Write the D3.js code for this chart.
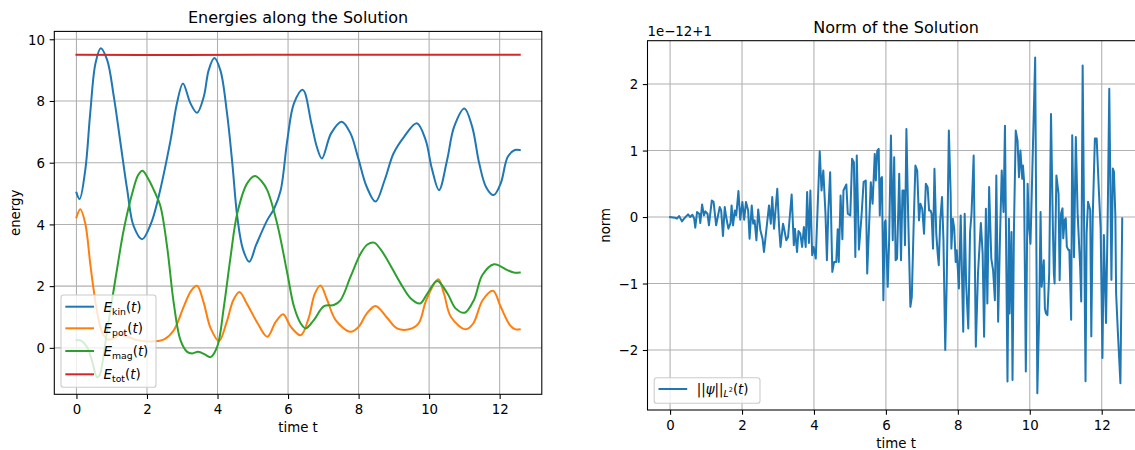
<!DOCTYPE html>
<html><head><meta charset="utf-8">
<script src="https://cdn.jsdelivr.net/npm/d3@7"></script>
<style>
body{margin:0;background:#fff}
svg{display:block}
text{font-family:"DejaVu Sans",sans-serif;fill:#000}
</style>
</head><body>
<svg id="c" width="1135" height="450"></svg>
<script>
// ---------- data ----------
const kinT=[0,0.09,0.25,0.39,0.54,0.69,0.87,1.06,1.25,1.44,1.62,1.86,2.12,2.33,2.67,2.85,3.02,3.23,3.42,3.61,3.75,3.91,4.08,4.27,4.42,4.56,4.72,4.9,5.1,5.41,5.6,5.79,5.98,6.17,6.42,6.66,6.82,6.96,7.22,7.52,7.77,7.98,8.23,8.48,8.74,8.99,9.29,9.65,9.9,10.08,10.28,10.51,10.71,11.0,11.22,11.42,11.62,11.83,12.03,12.23,12.43,12.57];
const kinV=[5.03,4.82,5.76,7.6,9.22,9.71,9.33,8.14,6.63,5.12,3.95,3.52,4.05,4.9,6.74,7.93,8.57,7.93,7.62,8.14,9.0,9.39,9.0,7.6,5.98,4.25,3.2,2.79,3.35,4.14,4.5,5.1,6.74,7.93,8.36,7.28,6.5,6.14,6.95,7.33,6.95,6.19,5.22,4.74,5.44,6.3,6.84,7.28,6.74,5.8,5.11,6.09,7.17,7.76,7.17,5.98,5.2,4.95,5.33,6.19,6.41,6.41];
const potT=[0,0.11,0.25,0.39,0.49,0.63,0.75,0.9,1.05,1.2,1.44,1.72,2.0,2.3,2.5,2.76,3.04,3.25,3.42,3.6,3.8,4.04,4.25,4.45,4.62,4.83,5.14,5.41,5.65,5.86,6.08,6.36,6.58,6.76,6.92,7.11,7.35,7.77,8.0,8.23,8.48,8.79,9.09,9.43,9.7,9.92,10.26,10.42,10.62,11.04,11.25,11.52,11.81,12.03,12.29,12.45,12.57];
const potV=[4.23,4.49,4.03,2.74,1.87,0.9,0.45,0.27,0.3,0.42,0.36,0.25,0.21,0.22,0.28,0.57,1.33,1.85,2.01,1.5,0.65,0.22,0.8,1.55,1.81,1.44,0.79,0.36,0.84,1.09,0.68,0.41,0.95,1.76,2.02,1.55,0.9,0.52,0.68,1.11,1.36,1.0,0.63,0.6,0.79,1.55,2.22,1.76,1.0,0.6,0.79,1.55,1.85,1.33,0.74,0.6,0.6];
const magT=[0,0.12,0.3,0.45,0.58,0.65,0.75,0.87,1.01,1.2,1.34,1.58,1.75,1.87,2.05,2.2,2.38,2.57,2.76,2.95,3.14,3.28,3.45,3.65,3.8,3.99,4.18,4.37,4.56,4.84,5.06,5.25,5.41,5.69,5.98,6.17,6.36,6.5,6.73,7.02,7.3,7.49,7.77,8.06,8.25,8.44,8.62,8.82,9.19,9.48,9.74,9.95,10.23,10.52,10.75,11.01,11.27,11.51,11.84,12.22,12.4,12.57];
const magV=[0.25,0.24,0.03,-0.45,-0.95,-0.9,-0.4,0.57,1.55,2.9,3.82,5.0,5.6,5.74,5.45,5.1,4.6,3.28,1.44,0.25,-0.13,-0.18,-0.13,-0.22,-0.3,0.03,1.33,2.95,4.36,5.33,5.57,5.4,5.11,4.03,2.41,1.33,0.79,0.63,0.9,1.35,1.39,1.55,2.3,3.06,3.35,3.41,3.2,2.84,2.09,1.6,1.44,1.76,2.17,1.76,1.28,1.14,1.55,2.36,2.71,2.52,2.44,2.44];
const totT=[0,3,7,12.57];
const totV=[9.5,9.49,9.5,9.5];

const normT=[0,0.13,0.19,0.25,0.33,0.41,0.5,0.56,0.62,0.67,0.7,0.75,0.81,0.84,0.89,0.94,0.98,1.04,1.08,1.16,1.21,1.28,1.38,1.42,1.47,1.52,1.56,1.62,1.68,1.71,1.75,1.8,1.84,1.9,1.95,2.01,2.06,2.11,2.17,2.21,2.27,2.31,2.35,2.4,2.45,2.51,2.57,2.61,
2.72,2.75,2.8,2.84,2.89,2.98,3.03,3.07,3.14,3.17,3.23,3.28,3.38,3.44,3.47,3.53,3.57,3.62,3.67,3.72,3.77,3.81,3.86,3.9,3.95,3.99,4.05,4.16,4.21,4.26,4.32,4.36,4.4,4.45,4.51,4.56,4.62,4.66,4.69,4.74,4.79,4.82,4.9,4.94,5.01,5.06,5.11,5.15,5.19,5.25,5.32,5.38,5.44,5.48,
5.56,5.58,5.63,5.69,5.72,5.76,5.8,5.83,5.86,5.89,5.93,5.97,5.99,6.05,6.09,6.14,6.19,6.23,6.27,6.31,6.37,6.42,6.46,6.5,6.53,6.57,6.62,6.68,6.72,6.77,6.82,6.87,6.92,6.96,7.01,7.06,7.11,7.16,7.2,7.24,7.27,7.31,7.35,7.4,7.44,7.47,7.51,7.56,7.6,7.65,7.69,7.75,7.8,7.82,7.86,7.9,7.94,7.97,8.03,8.08,8.15,8.19,8.23,8.29,8.34,8.38,8.44,
8.5,8.56,8.64,8.69,8.73,8.78,8.82,8.87,8.93,8.98,9.03,9.07,9.12,9.17,9.22,9.27,9.31,9.35,9.38,9.42,9.44,9.49,9.52,9.56,9.61,9.66,9.7,9.74,9.79,9.81,9.84,9.89,9.94,9.98,10.02,10.15,10.21,10.26,10.3,10.33,10.36,10.39,10.42,10.45,10.49,10.54,10.59,10.64,10.67,10.69,10.74,10.8,10.83,
10.87,10.91,10.93,10.97,11.0,11.03,11.07,11.1,11.15,11.18,11.23,11.28,11.33,11.4,11.43,11.47,11.55,11.58,11.62,11.68,11.71,11.75,11.81,11.86,11.92,11.97,12.02,12.06,12.12,12.17,12.21,12.27,12.31,12.34,12.38,12.4,12.45,12.52,12.57];
const normV=[0,-0.01,-0.025,0.015,-0.065,-0.01,0.04,0,0.035,-0.025,-0.16,0.075,0.05,-0.09,0.19,0.025,0.085,0.05,-0.125,0.25,0.225,-0.125,0.15,0.1,-0.285,0.15,0,-0.175,-0.09,0.175,-0.125,0.1,0.025,0.39,-0.04,0.225,-0.04,0.225,0.1,-0.325,0.175,-0.1,-0.05,-0.35,0.115,-0.2,-0.325,-0.525,
0.025,0.175,-0.1,0.3,-0.175,0.425,-0.15,-0.45,-0.1,-0.175,-0.35,-0.3,0.34,-0.425,-0.175,-0.525,-0.21,-0.25,-0.45,-0.15,-0.45,0.375,-0.39,0.4,-0.575,-0.45,-0.625,0.99,0.4,0.7,0.05,-0.65,0.1,0.675,-0.825,-0.675,-0.675,-0.185,-0.675,0.325,-0.335,0.4,0.49,0.05,0.025,0.875,0.825,-0.6,0.925,-0.49,0,0.525,0.55,-0.85,
0.25,0.525,0.2,0.95,0.55,1.0,1.025,0.025,0.575,0.6,-1.25,-0.075,-0.05,-1.05,-0.35,1.225,-0.35,0.9,-0.65,-0.625,0.65,-0.65,0.4,0.4,-0.425,1.325,0,-1.35,-1.2,-0.15,0.775,0.7,-0.05,0.2,0.125,-0.25,0.5,0.45,0.1,0.1,0.05,-0.475,0.725,-0.25,-0.55,-0.725,-0.05,0.3,-0.35,-2.0,-1.0,1.3,0.35,-0.475,-0.025,-0.175,-0.675,-0.5,-1.075,0.025,-1.725,0.05,-1.0,-1.675,-0.225,0.05,0.925,
-1.95,-0.85,-0.09,-0.55,-1.8,0.125,-1.3,0.45,-0.625,-0.8,-1.25,0.625,-1.575,-0.35,0.7,0.075,1.375,-0.85,-2.475,-0.025,-1.45,-0.225,-2.45,-0.175,1.3,1.15,0.6,1.0,0.575,0.775,0.55,-2.325,0.5,-0.15,-0.4,2.4,-2.65,-1.5,0.075,-1.05,-0.85,-0.65,-1.375,-1.45,-1.475,-0.85,1.55,-0.1,-0.85,-1.0,0.625,0.35,-0.95,
0.055,0.13,-0.32,-0.045,-0.02,-0.445,-0.495,-0.495,-1.545,1.23,-0.605,1.205,0.055,-0.745,-1.27,2.28,-2.47,-0.245,0.23,0.105,-1.795,0,1.18,1.18,0.405,-0.17,-2.12,-0.27,-1.595,0.155,1.93,-0.945,0.73,0.68,0,-1.145,-1.745,-2.5,-0.02];

const xTicks=[0,2,4,6,8,10,12];
const yTicksL=[0,2,4,6,8,10];
const yTicksR=[-2,-1,0,1,2];

// ---------- helpers ----------
const svg=d3.select("#c");
const FS=13.33, TICK=4.67, GRID="#b0b0b0";
const C={blue:"#1f77b4",orange:"#ff7f0e",green:"#2ca02c",red:"#d62728"};
const zip=(T,V)=>T.map((t,i)=>[t,V[i]]);

function panel(o){
  const g=svg.append("g");
  const x=d3.scaleLinear().domain(o.xd).range([o.x0,o.x1]);
  const y=d3.scaleLinear().domain(o.yd).range([o.y1,o.y0]);
  // grid
  g.append("g").selectAll("line").data(o.xt).join("line")
    .attr("x1",d=>x(d)).attr("x2",d=>x(d)).attr("y1",o.y0).attr("y2",o.y1)
    .attr("stroke",GRID).attr("stroke-width",1.07);
  g.append("g").selectAll("line").data(o.yt).join("line")
    .attr("y1",d=>y(d)).attr("y2",d=>y(d)).attr("x1",o.x0).attr("x2",o.x1)
    .attr("stroke",GRID).attr("stroke-width",1.07);
  // axes
  const ax=g.append("g").attr("transform",`translate(0,${o.y1})`)
    .call(d3.axisBottom(x).tickValues(o.xt).tickSize(TICK).tickPadding(5.9).tickFormat(d3.format("d")));
  const ay=g.append("g").attr("transform",`translate(${o.x0},0)`)
    .call(d3.axisLeft(y).tickValues(o.yt).tickSize(TICK).tickPadding(4.67).tickFormat(d3.format("d")));
  [ax,ay].forEach(a=>{
    a.select(".domain").remove();
    a.selectAll(".tick line").attr("stroke","#000").attr("stroke-width",1.07);
    a.selectAll(".tick text").attr("font-size",FS).attr("font-family","DejaVu Sans").attr("fill","#000");
  });
  ay.selectAll(".tick text").attr("dy","0.36em");
  // titles / labels
  g.append("text").attr("x",(o.x0+o.x1)/2).attr("y",o.y0-8).attr("text-anchor","middle")
    .attr("font-size",16).text(o.title);
  g.append("text").attr("x",(o.x0+o.x1)/2).attr("y",o.y1+38).attr("text-anchor","middle")
    .attr("font-size",FS).text("time t");
  g.append("text").attr("transform",`translate(${o.ylx},${(o.y0+o.y1)/2}) rotate(-90)`)
    .attr("text-anchor","middle").attr("font-size",FS).text(o.ylabel);
  const lines=g.append("g");
  // spines
  g.append("rect").attr("x",o.x0).attr("y",o.y0).attr("width",o.x1-o.x0).attr("height",o.y1-o.y0)
    .attr("fill","none").attr("stroke","#000").attr("stroke-width",1.07);
  return {g,x,y,lines};
}

// ---------- left panel ----------
const L=panel({x0:54.3,x1:541.8,y0:31.4,y1:394.3,xd:[-0.628,13.195],yd:[-1.505,10.255],
  xt:xTicks,yt:yTicksL,title:"Energies along the Solution",ylabel:"energy",ylx:19.8});
const lineL=d3.line().x(d=>L.x(d[0])).y(d=>L.y(d[1])).curve(d3.curveCatmullRom.alpha(0.5));
[[kinT,kinV,C.blue],[potT,potV,C.orange],[magT,magV,C.green],[totT,totV,C.red]].forEach(([T,V,c])=>{
  L.lines.append("path").attr("d",lineL(zip(T,V))).attr("fill","none").attr("stroke",c)
    .attr("stroke-width",2).attr("stroke-linejoin","round").attr("stroke-linecap","square");
});

// ---------- right panel ----------
const R=panel({x0:647.5,x1:1144.7,y0:40.7,y1:410,xd:[-0.628,13.195],yd:[-2.9025,2.6525],
  xt:xTicks,yt:yTicksR,title:"Norm of the Solution",ylabel:"norm",ylx:610});
const lineR=d3.line().x(d=>R.x(d[0])).y(d=>R.y(d[1]));
R.lines.append("path").attr("d",lineR(zip(normT,normV))).attr("fill","none").attr("stroke",C.blue)
  .attr("stroke-width",2).attr("stroke-linejoin","round").attr("stroke-linecap","square");
svg.append("text").attr("x",647.5).attr("y",36).attr("font-size",FS).text("1e\u221212+1");

// ---------- legends ----------
function mathLabel(t,x,y,parts){
  const tx=t.append("text").attr("x",x).attr("y",y).attr("font-size",FS);
  parts.forEach(p=>{
    const s=tx.append("tspan").text(p.s);
    if(p.i) s.attr("font-style","italic");
    if(p.fs) s.attr("font-size",p.fs);
    if(p.dy) s.attr("dy",p.dy);
  });
}
function legend(box,rows){
  const g=svg.append("g");
  g.append("rect").attr("x",box.x).attr("y",box.y).attr("width",box.w).attr("height",box.h)
    .attr("rx",2.67).attr("fill","#fff").attr("fill-opacity",0.8)
    .attr("stroke","#cccccc").attr("stroke-width",1.07);
  rows.forEach(r=>{
    g.append("line").attr("x1",box.x+5.3).attr("x2",box.x+32).attr("y1",r.y).attr("y2",r.y)
      .attr("stroke",r.c).attr("stroke-width",2).attr("stroke-linecap","square");
    mathLabel(g,box.x+42.6,r.y+5,r.parts);
  });
}
const sub=(s)=>[{s:"E",i:1},{s:s,fs:9.3,dy:2.9},{s:"(",dy:-2.9},{s:"t",i:1},{s:")"}];
legend({x:61,y:295,w:95,h:92.3},[
  {y:306.7,c:C.blue,parts:sub("kin")},
  {y:328.3,c:C.orange,parts:sub("pot")},
  {y:351,c:C.green,parts:sub("mag")},
  {y:374.3,c:C.red,parts:sub("tot")}
]);
legend({x:654.2,y:377.7,w:105.8,h:25.6},[
  {y:389,c:C.blue,parts:[{s:"||"},{s:"\u03c8",i:1},{s:"||"},{s:"L",i:1,fs:9.3,dy:3},{s:"2",fs:6.5,dy:-5},{s:"(",dy:2},{s:"t",i:1},{s:")"}]}
]);
</script>
</body></html>
